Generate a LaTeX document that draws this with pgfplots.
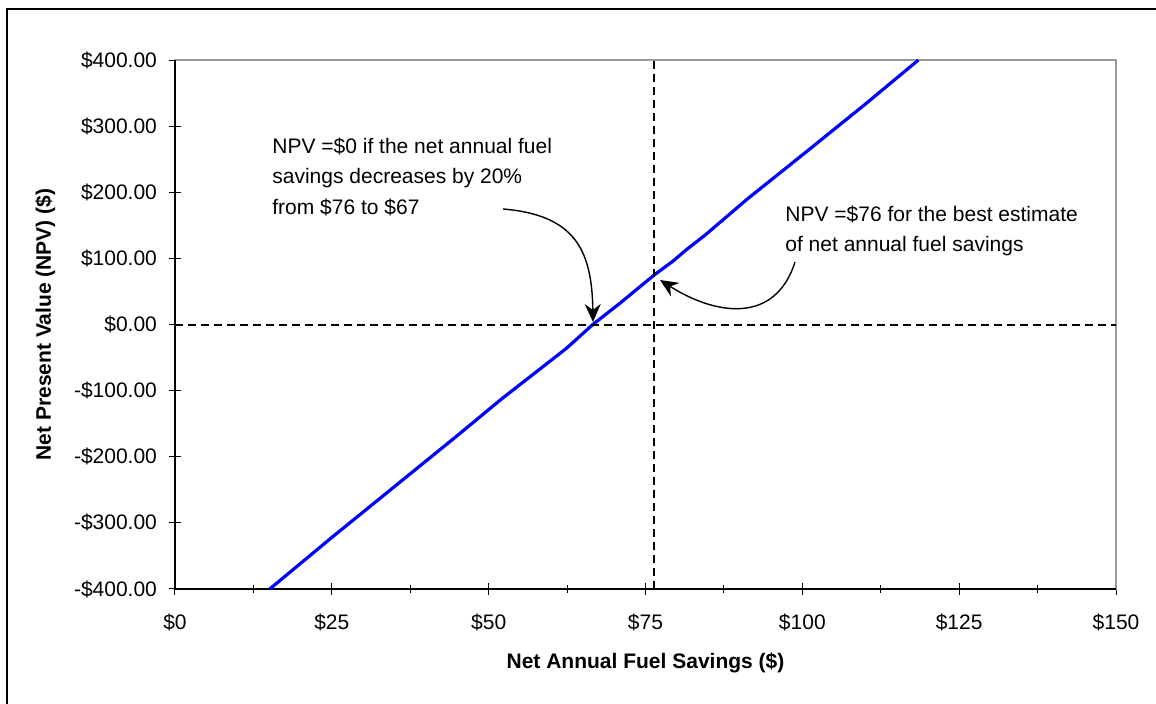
\documentclass[border=0pt]{standalone}
\usepackage{fontspec}
\setmainfont{Liberation Sans}
\usepackage{pgfplots}
\pgfplotsset{compat=1.18}
\usetikzlibrary{arrows.meta}

\begin{document}
\begin{tikzpicture}[font=\fontsize{10.5}{12.6}\selectfont]
\path[use as bounding box] (0,0) rectangle (578pt,-352pt);
% outer chart frame (cut off at right and bottom)
\draw[line width=1pt] (3.5pt,-360pt) -- (3.5pt,-4.5pt) -- (590pt,-4.5pt);

\begin{axis}[
    at={(87.5pt,-294.5pt)}, anchor=south west,
    scale only axis, width=470.5pt, height=264.5pt,
    xmin=0, xmax=150, ymin=-400, ymax=400,
    clip=false,
    xtick={0,25,...,150},
    xticklabels={\$0,\$25,\$50,\$75,\$100,\$125,\$150},
    minor x tick num=1,
    ytick={-400,-300,...,400},
    yticklabels={-\$400.00,-\$300.00,-\$200.00,-\$100.00,\$0.00,\$100.00,\$200.00,\$300.00,\$400.00},
    tick pos=left, tick align=center,
    major tick length=6pt, minor tick length=4pt,
    tick style={black, line width=0.5pt},
    axis line style={draw=black!40, line width=0.75pt},
    xticklabel style={font=\fontsize{10.5}{12.6}\selectfont, yshift=-6pt},
    yticklabel style={font=\fontsize{10.5}{12.6}\selectfont, xshift=-2.5pt},
    xlabel={\bfseries Net Annual Fuel Savings (\$)},
    ylabel={\bfseries Net Present Value (NPV) (\$)},
    every axis x label/.style={at={(axis description cs:0.5,-0.14)}, anchor=center},
    every axis y label/.style={at={(axis description cs:-0.138,0.5)}, anchor=center, rotate=90},
]
\draw[black, line width=1pt] (rel axis cs:0,1) -- (rel axis cs:0,0) -- (rel axis cs:1,0);

\addplot[blue, line width=1.6pt, mark=none] coordinates {
    (15.1,-400) (25,-322) (35,-245) (45,-168) (52,-113) (57,-76)
    (62.4,-36) (66.6,0) (70.9,32) (76.4,75) (79.4,96) (81.5,113)
    (84.6,136) (91,188) (101,264) (110,333) (118.5,400)
};

\addplot[black, line width=1pt, dash pattern=on 4pt off 2.5pt, mark=none]
    coordinates {(0,0) (150,0)};
\addplot[black, line width=1pt, dash pattern=on 4pt off 2.5pt, mark=none]
    coordinates {(76.4,-400) (76.4,400)};
\end{axis}

\begin{scope}[x=0.5pt, y=-0.5pt]
\node[anchor=base west, inner sep=0] at (272,153.5) {NPV =\$0 if the net annual fuel};
\node[anchor=base west, inner sep=0] at (272,184) {savings decreases by 20\%};
\node[anchor=base west, inner sep=0] at (272,214.5) {from \$76 to \$67};
\node[anchor=base west, inner sep=0] at (785,222) {NPV =\$76 for the best estimate};
\node[anchor=base west, inner sep=0] at (785,252) {of net annual fuel savings};

\draw[line width=0.7pt, -{Stealth[length=9pt, width=8pt, inset=3pt]}]
    (503,209) .. controls (575,215) and (592,250) .. (593,322);
\draw[line width=0.7pt, -{Stealth[length=9pt, width=8pt, inset=3pt]}]
    (795,262) .. controls (775,325) and (715,315) .. (660,280);
\end{scope}
\end{tikzpicture}
\end{document}
